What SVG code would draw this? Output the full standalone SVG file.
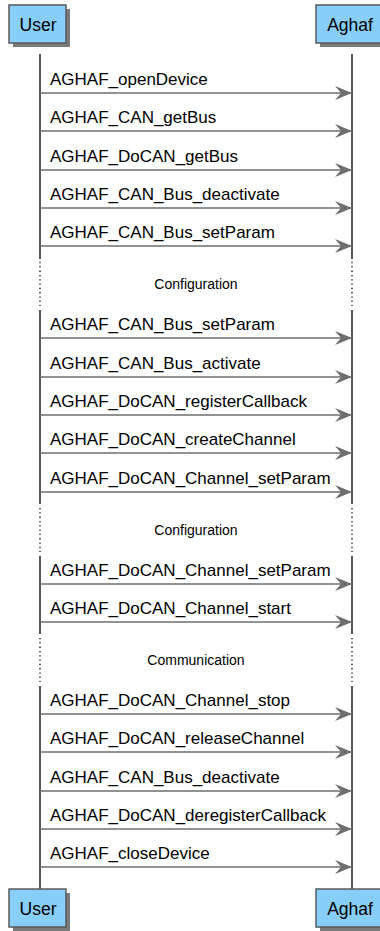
<svg xmlns="http://www.w3.org/2000/svg" width="380" height="931" viewBox="0 0 380 931">
<defs>
<style>
.box{fill:#87cefa;stroke:#5a5a5a;stroke-width:1.5}
.shadow{fill:#7a7a7a}
.pname{font-family:"Liberation Sans",Arial,sans-serif;font-size:17.5px;fill:#000;text-anchor:middle}
.life{stroke:#000;stroke-width:1.3;fill:none}
.dot{stroke:#000;stroke-width:1.3;fill:none;stroke-dasharray:1.3 3}
.msg{stroke:#6e6e6e;stroke-width:1.4;fill:none}
.head{fill:#6e6e6e}
.lbl{font-family:"Liberation Sans",Arial,sans-serif;font-size:17px;fill:#000}
.sep{font-family:"Liberation Sans",Arial,sans-serif;font-size:14px;fill:#000;text-anchor:middle}
</style>
<marker id="ah" markerUnits="userSpaceOnUse" markerWidth="20" markerHeight="16" refX="18" refY="8" orient="auto">
<polygon class="head" points="18,8 1,1 7,8 1,15"/>
</marker>
</defs>
<rect width="380" height="931" fill="#fff"/>
<g id="lifelines">
<path class="life" d="M40,54V259M352,54V259M40,310V504M352,310V504M40,556V634M352,556V634M40,686V889M352,686V889"/>
<path class="dot" d="M40,262V306M352,262V306M40,508V552M352,508V552M40,638V682M352,638V682"/>
</g>
<g id="user-top">
<rect class="shadow" x="13" y="9" width="57" height="38"/>
<rect class="box" x="9" y="5" width="57" height="38"/>
<text class="pname" x="38" y="31">User</text>
</g>
<g id="aghaf-top">
<rect class="shadow" x="320" y="9" width="70" height="38"/>
<rect class="box" x="316" y="5" width="70" height="38"/>
<text class="pname" x="350" y="31">Aghaf</text>
</g>
<g id="user-bottom">
<rect class="shadow" x="13" y="893" width="57" height="38"/>
<rect class="box" x="9" y="889" width="57" height="38"/>
<text class="pname" x="38" y="915">User</text>
</g>
<g id="aghaf-bottom">
<rect class="shadow" x="320" y="893" width="70" height="38"/>
<rect class="box" x="316" y="889" width="70" height="38"/>
<text class="pname" x="350" y="915">Aghaf</text>
</g>
<g id="connectors">
<path class="msg" marker-end="url(#ah)" d="M40,93H352"/>
<path class="msg" marker-end="url(#ah)" d="M40,131H352"/>
<path class="msg" marker-end="url(#ah)" d="M40,170H352"/>
<path class="msg" marker-end="url(#ah)" d="M40,208H352"/>
<path class="msg" marker-end="url(#ah)" d="M40,246H352"/>
<path class="msg" marker-end="url(#ah)" d="M40,338H352"/>
<path class="msg" marker-end="url(#ah)" d="M40,377H352"/>
<path class="msg" marker-end="url(#ah)" d="M40,415H352"/>
<path class="msg" marker-end="url(#ah)" d="M40,453H352"/>
<path class="msg" marker-end="url(#ah)" d="M40,492H352"/>
<path class="msg" marker-end="url(#ah)" d="M40,584H352"/>
<path class="msg" marker-end="url(#ah)" d="M40,622H352"/>
<path class="msg" marker-end="url(#ah)" d="M40,714H352"/>
<path class="msg" marker-end="url(#ah)" d="M40,752H352"/>
<path class="msg" marker-end="url(#ah)" d="M40,791H352"/>
<path class="msg" marker-end="url(#ah)" d="M40,829H352"/>
<path class="msg" marker-end="url(#ah)" d="M40,867H352"/>
</g>
<g id="labels">
<text class="lbl" x="50" y="85">AGHAF_openDevice</text>
<text class="lbl" x="50" y="123">AGHAF_CAN_getBus</text>
<text class="lbl" x="50" y="162">AGHAF_DoCAN_getBus</text>
<text class="lbl" x="50" y="200">AGHAF_CAN_Bus_deactivate</text>
<text class="lbl" x="50" y="238">AGHAF_CAN_Bus_setParam</text>
<text class="lbl" x="50" y="330">AGHAF_CAN_Bus_setParam</text>
<text class="lbl" x="50" y="369">AGHAF_CAN_Bus_activate</text>
<text class="lbl" x="50" y="407">AGHAF_DoCAN_registerCallback</text>
<text class="lbl" x="50" y="445">AGHAF_DoCAN_createChannel</text>
<text class="lbl" x="50" y="484">AGHAF_DoCAN_Channel_setParam</text>
<text class="lbl" x="50" y="576">AGHAF_DoCAN_Channel_setParam</text>
<text class="lbl" x="50" y="614">AGHAF_DoCAN_Channel_start</text>
<text class="lbl" x="50" y="706">AGHAF_DoCAN_Channel_stop</text>
<text class="lbl" x="50" y="744">AGHAF_DoCAN_releaseChannel</text>
<text class="lbl" x="50" y="783">AGHAF_CAN_Bus_deactivate</text>
<text class="lbl" x="50" y="821">AGHAF_DoCAN_deregisterCallback</text>
<text class="lbl" x="50" y="859">AGHAF_closeDevice</text>
</g>
<g id="separators">
<text class="sep" x="196" y="289">Configuration</text>
<text class="sep" x="196" y="535">Configuration</text>
<text class="sep" x="196" y="665">Communication</text>
</g>
</svg>
